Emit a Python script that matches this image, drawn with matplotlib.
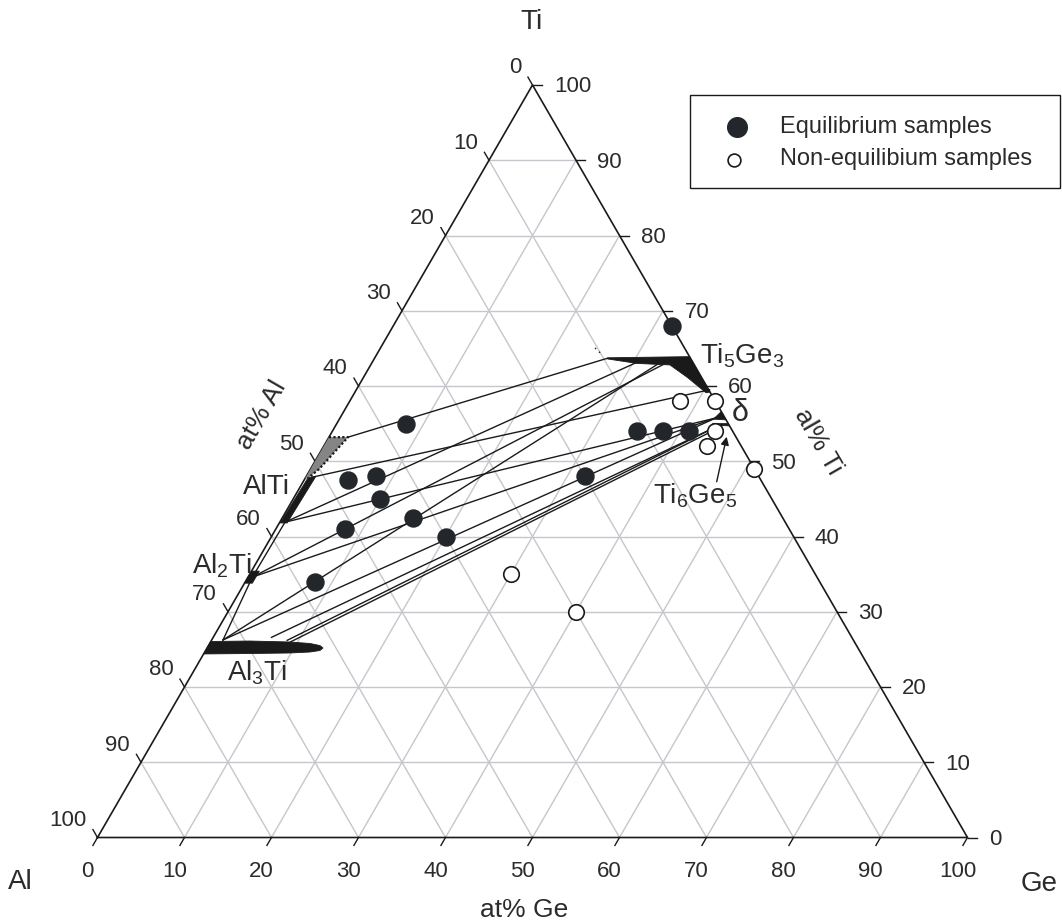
import numpy as np
import matplotlib
matplotlib.use("Agg")
import matplotlib.pyplot as plt
from matplotlib.patches import Polygon, Rectangle

plt.rcParams['font.family'] = ['Liberation Sans', 'DejaVu Sans']
plt.rcParams['mathtext.fontset'] = 'custom'
plt.rcParams['mathtext.rm'] = 'Liberation Sans'

# sample compositions, at% (Ge, Ti); Al is the balance
eq_ge = [32, 8, 5, 8, 10, 8, 15, 20, 8, 32, 35, 38, 41]
eq_ti = [68, 55, 47.5, 48, 45, 41, 42.5, 40, 34, 48, 54, 54, 54]
neq_ge = [38, 42, 44, 44, 51, 30, 40]
neq_ti = [58, 58, 54, 52, 49, 35, 30]

# tie lines: (Ge1, Ti1, Ge2, Ti2)
tie_lines = [
    (2.2, 53.2, 26.8, 63.7),
    (0.8, 47.9, 40.6, 59.5),
    (0.6, 41.9, 30.5, 63.2),
    (0.6, 41.9, 43.2, 55.75),
    (0.5, 34.6, 34.0, 63.2),
    (0.5, 34.6, 43.2, 55.75),
    (1.3, 26.25, 33.2, 63.2),
    (1.3, 26.25, 43.2, 55.75),
    (6.7, 26.6, 44.1, 54.8),
    (8.7, 26.2, 44.1, 54.8),
    (9.2, 26.0, 44.4, 54.6),
]
# boundary running from Al3Ti over Al2Ti to AlTi
inner_ge = [1.3, 0.5, 0.6]
inner_ti = [26.25, 34.6, 41.9]

# single phase fields (Ge, Ti)
ti5ge3 = [(26.8, 63.75), (36.1, 63.9), (40.8, 59.2), (40.4, 59.1),
          (37.3, 61.1), (34.4, 62.8), (30.5, 63.0), (26.8, 63.6)]
delta = [(43.4, 56.6), (44.5, 55.5), (43.0, 55.6)]
ti6ge5 = [(43.2, 55.0), (45.0, 55.0), (45.3, 54.7), (43.3, 54.8)]
alti_dotted = [(0, 53.2), (2.2, 53.2), (1.0, 49.0), (0.3, 47.7), (0, 47.7)]
alti = [(0.3, 47.8), (1.1, 48.0), (0.9, 41.8), (0.1, 41.8)]
al2ti = [(0, 35.4), (0.9, 35.4), (0.9, 33.8), (0, 33.8)]
al3ti = [(0, 26.05), (4.47, 26.11), (9.14, 25.98), (11.54, 25.78),
         (12.81, 25.51), (13.33, 25.18), (13.14, 24.85), (12.1, 24.65),
         (9.87, 24.52), (5.3, 24.45), (0, 24.39)]

ticks = list(range(0, 101, 10))

TXT = '#2b2b2b'
GRID = '#c6c6cc'
INK = '#1a1a1a'
H = np.sqrt(3) / 2


def tern(ge, ti):
    ge = np.asarray(ge, float)
    ti = np.asarray(ti, float)
    return ge + ti / 2, ti * H


def patch(pts, **kw):
    ge, ti = zip(*pts)
    x, y = tern(ge, ti)
    return Polygon(np.column_stack([x, y]), closed=True, **kw)


fig = plt.figure(figsize=(10.62, 9.24), dpi=100)
ax = fig.add_axes([97.5 / 1062, 86.5 / 924, 870 / 1062, 752.5 / 924])
ax.set_xlim(0, 100)
ax.set_ylim(0, 100 * H)
ax.axis('off')

# grid
for k in ticks[1:-1]:
    for ge, ti in (([0, 100 - k], [k, k]),
                   ([k, k], [0, 100 - k]),
                   ([100 - k, 0], [0, 100 - k])):
        x, y = tern(ge, ti)
        ax.plot(x, y, color=GRID, lw=1.0, zorder=1)

# frame
x, y = tern([0, 100, 0, 0], [0, 0, 100, 0])
ax.plot(x, y, color=INK, lw=1.2, zorder=3, clip_on=False)

# ticks and tick labels
tl = 1.05
for k in ticks:
    # Ge along the bottom
    x, y = tern(k, 0)
    ax.plot([x, x - 0.5 * tl], [y, y - H * tl], color=INK, lw=1.0, clip_on=False)
    ax.text(x - 1.15, -3.97, str(k), ha='center', va='center',
            fontsize=16, color=TXT)
    # Al along the left side
    x, y = tern(0, 100 - k)
    ax.plot([x, x - 0.5 * tl], [y, y + H * tl], color=INK, lw=1.0, clip_on=False)
    ax.text(x - 1.26, y + 1.96, str(k), ha='right', va='center',
            fontsize=16, color=TXT)
    # Ti along the right side
    x, y = tern(100 - k, k)
    ax.plot([x, x + tl], [y, y], color=INK, lw=1.0, clip_on=False)
    ax.text(x + 2.47, y - 0.23, str(k), ha='left', va='center',
            fontsize=16, color=TXT)

# tie lines
for g1, t1, g2, t2 in tie_lines:
    x, y = tern([g1, g2], [t1, t2])
    ax.plot(x, y, color=INK, lw=1.0, zorder=4)
x, y = tern(inner_ge, inner_ti)
ax.plot(x, y, color=INK, lw=1.0, zorder=4)

# phase fields
for pts in (ti5ge3, delta, ti6ge5, alti, al2ti, al3ti):
    ax.add_patch(patch(pts, facecolor=INK, edgecolor=INK, lw=0.6, zorder=5))
ax.add_patch(patch(alti_dotted, facecolor='#858585', edgecolor='none', zorder=5))
ge, ti = zip(*alti_dotted[:4])
x, y = tern(ge, ti)
ax.plot(x, y, color=INK, lw=1.6, ls=(0, (1, 1)), zorder=6)
x, y = tern([24.66, 25.8], [65.05, 64.25])
ax.plot(x, y, color=INK, lw=1.0, ls=(0, (1, 3)), zorder=6)

# samples
x, y = tern(eq_ge, eq_ti)
ax.scatter(x, y, s=150, color='#23272b', edgecolor='#23272b', zorder=7, clip_on=False)
x, y = tern(neq_ge, neq_ti)
ax.scatter(x, y, s=125, facecolor='white', edgecolor=INK, lw=1.2, zorder=7,
           clip_on=False)

# phase labels
lab = dict(fontsize=20, color=TXT, ha='left', va='center', zorder=8)
ax.text(69.25, 55.5, r'Ti$_\mathregular{5}$Ge$_\mathregular{3}$', **lab)
ax.text(72.9, 48.9, 'δ', **dict(lab, fontsize=22))
ax.text(63.85, 39.4, r'Ti$_\mathregular{6}$Ge$_\mathregular{5}$', **lab)
ax.text(16.72, 40.3, 'AlTi', **lab)
ax.text(10.86, 31.3, r'Al$_\mathregular{2}$Ti', **lab)
ax.text(14.85, 19.0, r'Al$_\mathregular{3}$Ti', **lab)
ax.annotate('', xy=(72.32, 46.12), xytext=(71.17, 40.94),
            arrowprops=dict(arrowstyle='-|>', color=INK, lw=1.0,
                            mutation_scale=12, shrinkA=0, shrinkB=0))

# corner and axis titles
ax.text(49.9, 93.9, 'Ti', fontsize=20, color=TXT, ha='center', va='center')
ax.text(-8.9, -5.1, 'Al', fontsize=20, color=TXT, ha='center', va='center')
ax.text(108.2, -5.4, 'Ge', fontsize=20, color=TXT, ha='center', va='center')
ax.text(49.0, -8.4, 'at% Ge', fontsize=19, color=TXT, ha='center', va='center')
ax.text(18.9, 48.6, 'at% Al', fontsize=19, color=TXT, ha='center', va='center',
        rotation=60)
ax.text(82.8, 45.5, 'al% Ti', fontsize=19, color=TXT, ha='center', va='center',
        rotation=-60)

# legend
ax.add_patch(Rectangle((68.1, 74.74), 42.55, 10.7, facecolor='white',
                       edgecolor=INK, lw=1.0, clip_on=False, zorder=8))
ax.scatter([73.5], [81.76], s=200, color='#23272b', zorder=9, clip_on=False)
ax.scatter([73.16], [78.0], s=85, facecolor='white', edgecolor=INK, lw=1.2,
           zorder=9, clip_on=False)
ax.text(78.45, 81.76, 'Equilibrium samples', fontsize=17, color=TXT,
        ha='left', va='center', zorder=9)
ax.text(78.45, 78.04, 'Non-equilibium samples', fontsize=17, color=TXT,
        ha='left', va='center', zorder=9)

fig.savefig('out.png', dpi=100)
